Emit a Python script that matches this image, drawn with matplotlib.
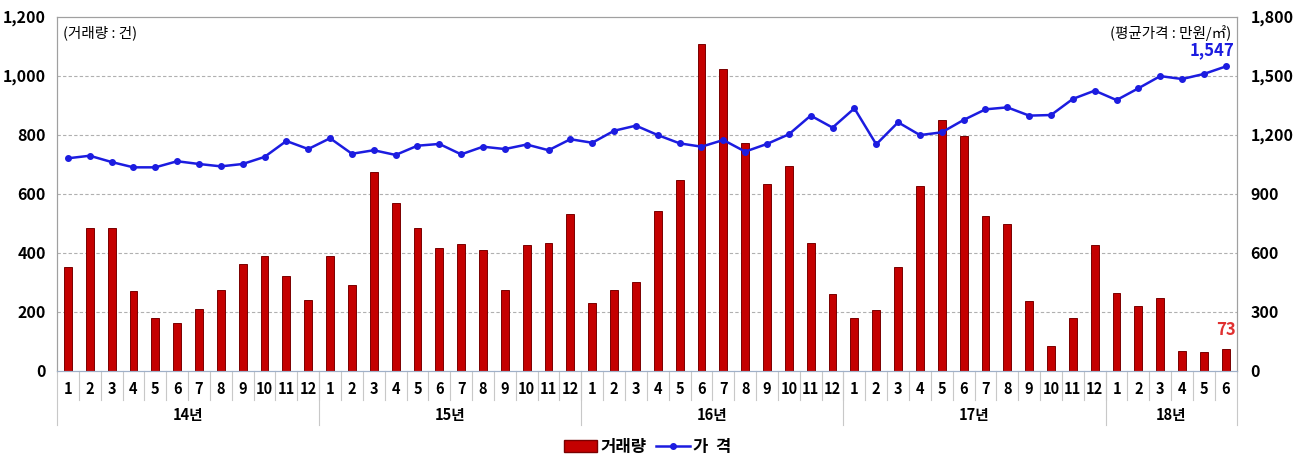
import numpy as np
import matplotlib.pyplot as plt
import matplotlib.transforms as mtransforms
from matplotlib.patches import Patch
from matplotlib.lines import Line2D

plt.rcParams['font.family'] = ['Liberation Sans Narrow', 'Noto Sans CJK KR', 'DejaVu Sans']

# data: Jan 2014 .. Jun 2018
years = ["14년", "15년", "16년", "17년", "18년"]
months_per_year = [12, 12, 12, 12, 6]
month_labels = [str(m) for n in months_per_year for m in range(1, n + 1)]

volume = [350, 485, 485, 270, 178, 162, 210, 275, 360, 388, 322, 240,
          390, 290, 672, 567, 485, 415, 430, 410, 275, 425, 433, 532,
          228, 275, 302, 540, 648, 1108, 1022, 773, 632, 695, 433, 260,
          178, 205, 352, 625, 850, 797, 523, 497, 235, 83, 178, 425,
          262, 218, 248, 68, 65, 73]

price = [1080, 1093, 1061, 1034, 1034, 1065, 1051, 1039, 1051, 1087, 1168, 1127,
         1182, 1103, 1121, 1097, 1144, 1153, 1100, 1139, 1127, 1150, 1121, 1177,
         1159, 1220, 1246, 1198, 1156, 1139, 1173, 1114, 1153, 1202, 1297, 1236,
         1334, 1151, 1263, 1198, 1212, 1275, 1329, 1339, 1297, 1300, 1382, 1424,
         1376, 1436, 1498, 1483, 1509, 1547]

left_ticks = [0, 200, 400, 600, 800, 1000, 1200]
right_ticks = [0, 300, 600, 900, 1200, 1500, 1800]

bar_color = "#c40000"
line_color = "#1c1ce0"
grid_gray = "#b0b0b0"

x = np.arange(len(volume))

fig = plt.figure(figsize=(12.95, 4.55), dpi=100)
ax = fig.add_axes([0.044, 0.1853, 0.911, 0.778])
ax2 = ax.twinx()

ax.bar(x, volume, width=0.36, color=bar_color, edgecolor="#7a0000", linewidth=0.7, zorder=2)
ax.set_xlim(-0.5, len(x) - 0.5)
ax.set_ylim(0, 1200)
ax2.set_ylim(0, 1800)

ax2.plot(x, price, color=line_color, linewidth=1.8, marker="o", markersize=4, zorder=3)

# gridlines
for v in left_ticks[1:-1]:
    ax.axhline(v, color=grid_gray, linestyle=(0, (3, 2)), linewidth=0.8, zorder=1)

ax.set_yticks(left_ticks)
ax.set_yticklabels([f"{v:,}" for v in left_ticks], fontsize=11.5, fontweight="bold")
ax2.set_yticks(right_ticks)
ax2.set_yticklabels([f"{v:,}" for v in right_ticks], fontsize=11.5, fontweight="bold")
ax.tick_params(axis="y", length=0, pad=8)
ax2.tick_params(axis="y", length=0, pad=10)
ax.set_xticks([])

for a in (ax, ax2):
    for side in ("top", "right", "left"):
        a.spines[side].set_color("#a0a0a0")
        a.spines[side].set_linewidth(0.8)
    a.spines["bottom"].set_color("#9fb0c8")
    a.spines["bottom"].set_linewidth(0.8)

# category axis: month labels and separators
trans = mtransforms.blended_transform_factory(ax.transData, ax.transAxes)
for i, lab in enumerate(month_labels):
    ax.text(i, -0.052, lab, transform=trans, ha="center", va="center",
            fontsize=10.5, fontweight="bold")
for i in range(1, len(x)):
    ax.plot([i - 0.5, i - 0.5], [0, -0.083], transform=trans, color="#c8c8c8",
            linewidth=0.8, clip_on=False)

start = 0
edges = [-0.5]
for yr, n in zip(years, months_per_year):
    ax.text(start + (n - 1) / 2, -0.125, yr, transform=trans, ha="center", va="center",
            fontsize=10.5, fontweight="bold")
    start += n
    edges.append(start - 0.5)
for e in edges:
    ax.plot([e, e], [0, -0.153], transform=trans, color="#c8c8c8",
            linewidth=0.8, clip_on=False)

# annotations
ax.text(0.005, 0.955, "(거래량 : 건)", transform=ax.transAxes, ha="left", va="center", fontsize=10.5)
ax.text(0.995, 0.955, "(평균가격 : 만원/㎡)", transform=ax.transAxes, ha="right", va="center", fontsize=10.5)
ax2.annotate(f"{price[-1]:,}", (x[-1], price[-1]), xytext=(-10, 5), textcoords="offset points",
             ha="center", va="bottom", color=line_color, fontsize=12, fontweight="bold")
ax.annotate(f"{volume[-1]}", (x[-1], volume[-1]), xytext=(0, 7), textcoords="offset points",
            ha="center", va="bottom", color="#e03030", fontsize=12, fontweight="bold")

handles = [Patch(facecolor=bar_color, edgecolor="#7a0000"),
           Line2D([], [], color=line_color, linewidth=1.8, marker="o", markersize=4)]
leg = fig.legend(handles, ["거래량", "가  격"], loc="lower center", bbox_to_anchor=(0.5, -0.035),
                 ncol=2, frameon=False, handlelength=2.0, columnspacing=0.6, handletextpad=0.2,
                 prop={"size": 12, "weight": "bold"})

fig.savefig("out.png", dpi=100)
